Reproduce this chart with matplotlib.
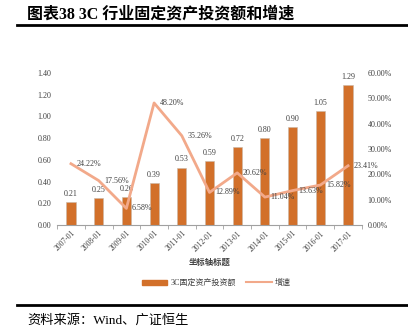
import matplotlib
matplotlib.use('Agg')
import matplotlib.pyplot as plt
from matplotlib.lines import Line2D

plt.rcParams['font.family'] = ['Liberation Serif', 'Noto Sans CJK SC']

# 数据
periodos = ['2007-01', '2008-01', '2009-01', '2010-01', '2011-01', '2012-01',
            '2013-01', '2014-01', '2015-01', '2016-01', '2017-01']
inversion = [0.21, 0.25, 0.26, 0.39, 0.53, 0.59, 0.72, 0.80, 0.90, 1.05, 1.29]
crecimiento = [24.22, 17.56, 6.58, 48.20, 35.26, 12.89, 20.62, 11.04, 13.63, 15.82, 23.41]

color_barra = '#D2702A'
color_linea = '#F2A98A'
gris = '#404040'

fig = plt.figure(figsize=(4.08, 3.32), dpi=100)
ax = fig.add_axes([0.14, 0.322, 0.747, 0.458])
ax2 = ax.twinx()

x = list(range(len(periodos)))
ax.bar(x, inversion, width=0.33, color=color_barra, edgecolor='#C8B8A8', linewidth=0.4, zorder=2)
for xi, v in zip(x, inversion):
    ax.annotate(f'{v:.2f}', (xi, v), xytext=(0, 3), textcoords='offset points',
                ha='center', va='bottom', fontsize=5.8, color=gris)

ax2.plot(x, crecimiento, color=color_linea, linewidth=2, zorder=3)
for xi, v in zip(x, crecimiento):
    ax2.annotate(f'{v:.2f}%', (xi, v), xytext=(4, 0), textcoords='offset points',
                 ha='left', va='center', fontsize=5.8, color=gris)

ax.set_xlim(-0.5, len(periodos) - 0.5)
ax.set_ylim(0, 1.4)
ax2.set_ylim(0, 60)
ax.set_yticks([i * 0.2 for i in range(8)])
ax.set_yticklabels([f'{i * 0.2:.2f}' for i in range(8)])
ax2.set_yticks(range(0, 61, 10))
ax2.set_yticklabels([f'{v:.2f}%' for v in range(0, 61, 10)])

ax.set_xticks(x)
ax.set_xticklabels(periodos, rotation=45, ha='right', rotation_mode='anchor')
ax.set_xticks([i - 0.5 for i in range(len(periodos) + 1)], minor=True)

for a in (ax, ax2):
    for s in ('top', 'left', 'right'):
        a.spines[s].set_visible(False)
    a.spines['bottom'].set_color('#A0A0A0')
    a.tick_params(axis='y', length=0, labelsize=5.8, labelcolor=gris, pad=4)
ax2.spines['bottom'].set_visible(False)
ax.tick_params(axis='x', which='major', length=0, labelsize=5.5, labelcolor=gris, pad=3)
ax.tick_params(axis='x', which='minor', length=3, color='#A0A0A0')

ax.set_xlabel('坐标轴标题', fontsize=6, color=gris, fontweight='bold', labelpad=4)

handles = [plt.Rectangle((0, 0), 1, 1, color=color_barra),
           Line2D([0], [0], color=color_linea, linewidth=1.5)]
fig.legend(handles, ['3C固定资产投资额', '增速'], loc='center', bbox_to_anchor=(0.53, 0.148),
           ncol=2, frameon=False, fontsize=5.8, handlelength=3.2, handleheight=0.6,
           columnspacing=1.2, handletextpad=0.4, labelcolor=gris)

fig.text(0.066, 0.958, '图表38 3C 行业固定资产投资额和增速', fontsize=11.5, fontweight='bold',
         va='center', ha='left')
fig.add_artist(Line2D([0.042, 1.0], [0.925, 0.925], color='black', linewidth=2))
fig.add_artist(Line2D([0.042, 1.0], [0.082, 0.082], color='black', linewidth=2))
fig.text(0.066, 0.036, '资料来源：Wind、广证恒生', fontsize=9.5, va='center', ha='left')

plt.savefig('out.png', dpi=100)
plt.close(fig)
